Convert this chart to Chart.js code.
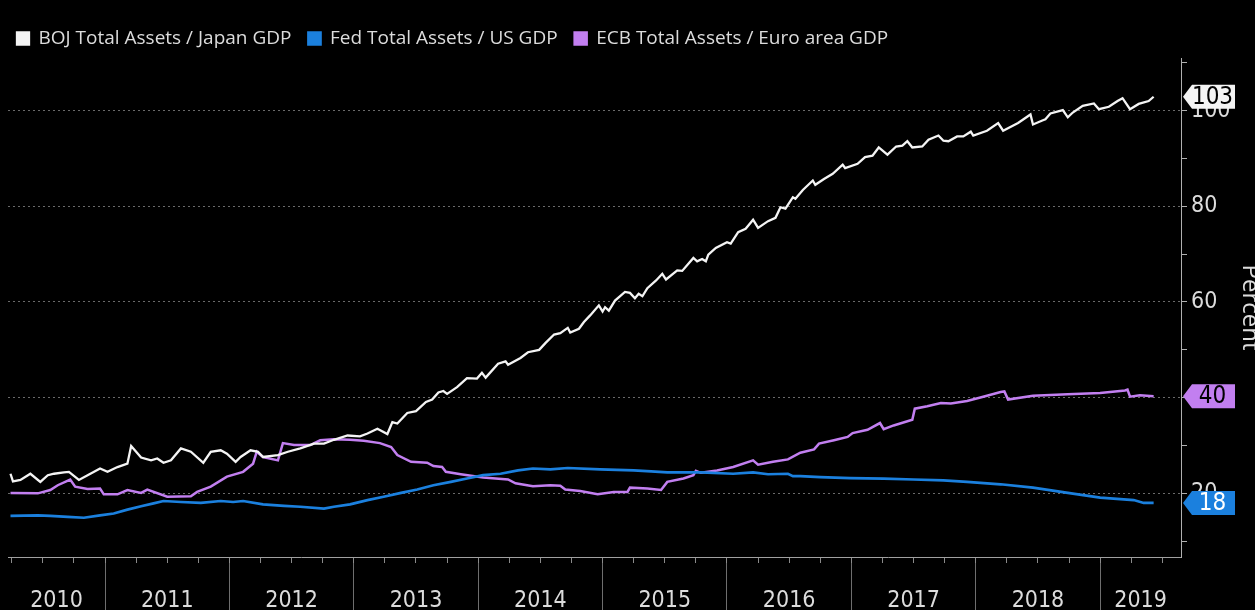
<!DOCTYPE html>
<html>
<head>
<meta charset="utf-8">
<script src="https://cdn.jsdelivr.net/npm/chart.js@4.4.1/dist/chart.umd.min.js"></script>
<style>
  html, body { margin: 0; padding: 0; background: #000; overflow: hidden; }
  canvas { display: block; }
</style>
</head>
<body>
<canvas id="assetsChart" width="1255" height="610"></canvas>
<script>
const seriesNames = ['BOJ Total Assets / Japan GDP', 'Fed Total Assets / US GDP', 'ECB Total Assets / Euro area GDP']
const yearLabels = ['2010', '2011', '2012', '2013', '2014', '2015', '2016', '2017', '2018', '2019']

// dates are decimal years, values in percent of GDP
const bojDates = [
  2010.24, 2010.26, 2010.32, 2010.40, 2010.48, 2010.54, 2010.59, 2010.67, 2010.71, 2010.79, 2010.86, 2010.96,
  2011.02, 2011.10, 2011.18, 2011.21, 2011.29, 2011.37, 2011.42, 2011.47, 2011.53, 2011.61, 2011.69, 2011.79, 2011.85, 2011.93, 2011.98,
  2012.05, 2012.09, 2012.17, 2012.23, 2012.27, 2012.39, 2012.47, 2012.57, 2012.68, 2012.76, 2012.84, 2012.95,
  2013.05, 2013.11, 2013.19, 2013.27, 2013.31, 2013.35, 2013.43, 2013.50, 2013.58, 2013.63, 2013.68, 2013.72, 2013.75, 2013.83, 2013.91, 2013.99,
  2014.03, 2014.06, 2014.16, 2014.22, 2014.24, 2014.34, 2014.40, 2014.49, 2014.54, 2014.61, 2014.66, 2014.72, 2014.74, 2014.81, 2014.85, 2014.90, 2014.97,
  2015.00, 2015.02, 2015.05, 2015.10, 2015.18, 2015.22, 2015.26, 2015.29, 2015.32, 2015.36, 2015.43, 2015.48, 2015.51, 2015.60, 2015.64, 2015.73, 2015.76, 2015.80, 2015.83, 2015.85, 2015.91,
  2016.00, 2016.03, 2016.09, 2016.15, 2016.21, 2016.25, 2016.33, 2016.39, 2016.43, 2016.47, 2016.53, 2016.55, 2016.61, 2016.69, 2016.71, 2016.78, 2016.85, 2016.93, 2016.95,
  2017.05, 2017.11, 2017.17, 2017.22, 2017.29, 2017.36, 2017.41, 2017.45, 2017.49, 2017.57, 2017.62, 2017.70, 2017.74, 2017.78, 2017.85, 2017.90, 2017.96, 2017.98,
  2018.09, 2018.18, 2018.22, 2018.34, 2018.44, 2018.46, 2018.54, 2018.56, 2018.60, 2018.70, 2018.74, 2018.78, 2018.86, 2018.95, 2018.99,
  2019.07, 2019.14, 2019.18, 2019.24, 2019.31, 2019.39, 2019.43
]
const bojValues = [
  24.1, 22.5, 22.8, 24.1, 22.4, 23.8, 24.1, 24.4, 24.5, 22.8, 23.8, 25.2,
  24.5, 25.5, 26.2, 29.9, 27.5, 26.9, 27.3, 26.4, 26.9, 29.4, 28.7, 26.4, 28.7, 29.0, 28.3,
  26.6, 27.6, 29.0, 28.7, 27.6, 28.0, 28.7, 29.4, 30.4, 30.4, 31.2, 32.1,
  31.9, 32.5, 33.5, 32.4, 34.9, 34.6, 36.8, 37.2, 39.1, 39.6, 41.1, 41.4, 40.8, 42.2, 44.1, 44.0,
  45.2, 44.2, 47.1, 47.6, 46.9, 48.3, 49.5, 50.0, 51.4, 53.2, 53.5, 54.6, 53.6, 54.4, 55.8, 57.2, 59.3,
  58.0, 58.9, 58.2, 60.3, 62.1, 61.9, 60.8, 61.7, 61.2, 62.9, 64.5, 65.9, 64.7, 66.6, 66.5, 69.2, 68.5, 69.0, 68.5, 69.9, 71.3,
  72.5, 72.2, 74.6, 75.3, 77.2, 75.5, 76.9, 77.6, 79.8, 79.5, 81.9, 81.6, 83.4, 85.4, 84.5, 85.7, 86.8, 88.7, 88.0,
  88.9, 90.3, 90.6, 92.3, 90.8, 92.5, 92.7, 93.6, 92.3, 92.5, 93.9, 94.8, 93.7, 93.6, 94.6, 94.6, 95.6, 94.8,
  95.8, 97.4, 95.8, 97.4, 99.2, 97.1, 98.0, 98.2, 99.4, 100.1, 98.6, 99.6, 101.0, 101.5, 100.3,
  100.8, 102.0, 102.6, 100.3, 101.4, 102.0, 102.9
]

const fedDates = [
  2010.24, 2010.46, 2010.56, 2010.70, 2010.83, 2010.96,
  2011.07, 2011.18, 2011.29, 2011.39, 2011.47, 2011.61, 2011.77, 2011.93,
  2012.03, 2012.11, 2012.27, 2012.44, 2012.57, 2012.76, 2012.84, 2012.97,
  2013.11, 2013.24, 2013.38, 2013.51, 2013.64, 2013.78, 2013.91,
  2014.04, 2014.18, 2014.32, 2014.44, 2014.58, 2014.72, 2014.98,
  2015.25, 2015.39, 2015.52, 2015.79,
  2016.05, 2016.21, 2016.33, 2016.49, 2016.53, 2016.59, 2016.75, 2016.99,
  2017.26, 2017.50, 2017.74, 2017.93,
  2018.20, 2018.46, 2018.74,
  2019.00, 2019.27, 2019.35, 2019.43
]
const fedValues = [
  15.3, 15.4, 15.3, 15.1, 14.9, 15.4,
  15.8, 16.6, 17.3, 17.9, 18.4, 18.2, 18.0, 18.4,
  18.2, 18.4, 17.7, 17.4, 17.2, 16.8, 17.2, 17.7,
  18.6, 19.3, 20.1, 20.8, 21.7, 22.4, 23.1,
  23.8, 24.1, 24.8, 25.2, 25.0, 25.3, 25.0,
  24.8, 24.6, 24.4, 24.4,
  24.1, 24.4, 24.0, 24.1, 23.6, 23.6, 23.4, 23.2,
  23.1, 22.9, 22.7, 22.4,
  21.9, 21.2, 20.1,
  19.1, 18.6, 18.0, 18.0
]

const ecbDates = [
  2010.24, 2010.46, 2010.56, 2010.62, 2010.72, 2010.76, 2010.86, 2010.96, 2010.99,
  2011.10, 2011.18, 2011.29, 2011.34, 2011.50, 2011.69, 2011.74, 2011.85, 2011.98,
  2012.11, 2012.19, 2012.22, 2012.27, 2012.39, 2012.43, 2012.52, 2012.65, 2012.73, 2012.84, 2012.97,
  2013.08, 2013.21, 2013.30, 2013.35, 2013.46, 2013.59, 2013.64, 2013.71, 2013.74, 2013.86,
  2014.04, 2014.24, 2014.30, 2014.44, 2014.58, 2014.66, 2014.70, 2014.82, 2014.96,
  2015.09, 2015.20, 2015.22, 2015.36, 2015.47, 2015.52, 2015.65, 2015.73, 2015.75, 2015.79, 2015.92,
  2016.05, 2016.21, 2016.25, 2016.37, 2016.49, 2016.59, 2016.70, 2016.74, 2016.86, 2016.97,
  2017.01, 2017.13, 2017.23, 2017.26, 2017.34, 2017.49, 2017.51, 2017.61, 2017.72, 2017.80, 2017.93,
  2018.06, 2018.20, 2018.23, 2018.26, 2018.46, 2018.74,
  2019.00, 2019.20, 2019.22, 2019.24, 2019.32, 2019.43
]
const ecbValues = [
  20.1, 20.0, 20.7, 21.7, 22.9, 21.4, 20.9, 21.0, 19.8,
  19.8, 20.7, 20.1, 20.8, 19.3, 19.4, 20.3, 21.4, 23.5,
  24.5, 26.2, 28.7, 27.6, 26.9, 30.5, 30.1, 30.1, 31.1, 31.3, 31.2,
  31.0, 30.5, 29.7, 28.0, 26.6, 26.4, 25.7, 25.5, 24.5, 24.0,
  23.3, 22.9, 22.1, 21.5, 21.7, 21.6, 20.8, 20.5, 19.8,
  20.3, 20.3, 21.2, 21.0, 20.7, 22.4, 23.1, 23.8, 24.7, 24.3, 24.8,
  25.5, 26.9, 26.0, 26.6, 27.1, 28.5, 29.2, 30.4, 31.1, 31.8,
  32.6, 33.3, 34.7, 33.4, 34.2, 35.4, 37.7, 38.2, 38.9, 38.8, 39.3,
  40.2, 41.2, 41.3, 39.6, 40.4, 40.7,
  41.0, 41.5, 41.7, 40.2, 40.5, 40.3
]

const xMin = 2010.22
const xMax = 2019.65
const yMin = 6.7
const yMax = 111

const NARROW = '"Liberation Sans Narrow", "DejaVu Sans Condensed", sans-serif'
const TEXT = '#dcdcdc'

Chart.defaults.font.family = '"Open Sans", sans-serif'

function toPoints(dates, values) {
    return dates.map((d, i) => ({ x: d, y: values[i] }))
}

// value tags at the right end of each line
const endTags = {
    id: 'endTags',
    afterDraw(chart) {
        const { ctx, chartArea, scales } = chart
        chart.data.datasets.forEach((ds) => {
            const last = ds.data[ds.data.length - 1].y
            const y = scales.y.getPixelForValue(last)
            const tip = chartArea.right + 2
            const body = tip + 9
            const end = tip + 52
            const h = 12
            ctx.save()
            ctx.fillStyle = ds.borderColor
            ctx.beginPath()
            ctx.moveTo(tip, y)
            ctx.lineTo(body, y - h)
            ctx.lineTo(end, y - h)
            ctx.lineTo(end, y + h)
            ctx.lineTo(body, y + h)
            ctx.closePath()
            ctx.fill()
            ctx.fillStyle = ds.tagTextColor
            ctx.font = '24px ' + NARROW
            ctx.textAlign = 'center'
            ctx.textBaseline = 'middle'
            ctx.fillText(String(Math.round(last)), (body + end) / 2 - 1, y + 1)
            ctx.restore()
        })
    }
}

const chart = new Chart(document.getElementById('assetsChart'), {
    type: 'line',
    data: {
        datasets: [{
            label: seriesNames[0],
            data: toPoints(bojDates, bojValues),
            borderColor: '#f4f4f4',
            backgroundColor: '#f4f4f4',
            tagTextColor: '#000',
            borderWidth: 2.3,
            pointRadius: 0,
            tension: 0
        }, {
            label: seriesNames[1],
            data: toPoints(fedDates, fedValues),
            borderColor: '#1b80de',
            backgroundColor: '#1b80de',
            tagTextColor: '#fff',
            borderWidth: 2.7,
            pointRadius: 0,
            tension: 0
        }, {
            label: seriesNames[2],
            data: toPoints(ecbDates, ecbValues),
            borderColor: '#c27ff0',
            backgroundColor: '#c27ff0',
            tagTextColor: '#000',
            borderWidth: 2.5,
            pointRadius: 0,
            tension: 0
        }]
    },
    options: {
        responsive: false,
        animation: false,
        devicePixelRatio: 1,
        layout: { padding: { top: 12, left: 0, right: 0, bottom: 0 } },
        plugins: {
            legend: {
                position: 'top',
                align: 'start',
                labels: {
                    color: TEXT,
                    boxWidth: 12,
                    boxHeight: 12,
                    padding: 17,
                    font: { size: 19 }
                }
            },
            tooltip: { enabled: false }
        },
        scales: {
            x: {
                type: 'linear',
                position: 'bottom',
                min: xMin,
                max: xMax,
                afterBuildTicks: (scale) => {
                    const ticks = []
                    for (let q = Math.ceil(scale.min * 4); q / 4 <= scale.max; q++) {
                        ticks.push({ value: q / 4 })
                    }
                    scale.ticks = ticks
                },
                ticks: { display: false },
                grid: {
                    drawOnChartArea: false,
                    tickLength: 6,
                    tickColor: '#8a8a8a'
                },
                border: { color: '#a0a0a0' }
            },
            x2: {
                type: 'linear',
                position: 'bottom',
                min: xMin,
                max: xMax,
                afterBuildTicks: (scale) => {
                    const ticks = []
                    yearLabels.forEach((label) => {
                        const year = Number(label)
                        if (year > scale.min) ticks.push({ value: year })
                        const from = Math.max(year, scale.min)
                        const to = Math.min(year + 1, scale.max)
                        ticks.push({ value: (from + to) / 2, yearLabel: label })
                    })
                    ticks.sort((a, b) => a.value - b.value)
                    scale.ticks = ticks
                },
                afterFit: (scale) => { scale.height = 47 },
                ticks: {
                    autoSkip: false,
                    maxRotation: 0,
                    padding: -23,
                    color: TEXT,
                    font: { family: NARROW, size: 23 },
                    callback: (value, index, ticks) => ticks[index].yearLabel || ''
                },
                grid: {
                    drawOnChartArea: false,
                    tickLength: 47,
                    tickColor: (ctx) => (ctx.tick && ctx.tick.yearLabel) ? 'transparent' : '#6e6e6e'
                },
                border: { display: false }
            },
            y: {
                type: 'linear',
                position: 'right',
                min: yMin,
                max: yMax,
                afterBuildTicks: (scale) => {
                    const ticks = []
                    for (let v = 10; v <= 110; v += 10) ticks.push({ value: v })
                    scale.ticks = ticks
                },
                afterFit: (scale) => { scale.width = 74 },
                ticks: {
                    padding: 4,
                    color: TEXT,
                    font: { family: NARROW, size: 23 },
                    callback: (value) => (value % 20 === 0 && value <= 100) ? String(value) : ''
                },
                grid: {
                    color: (ctx) => (ctx.tick && ctx.tick.value % 20 === 0 && ctx.tick.value <= 100) ? '#6a6a6a' : 'transparent',
                    lineWidth: 1,
                    tickLength: 6,
                    tickColor: '#b0b0b0'
                },
                border: { color: '#b0b0b0', dash: [2, 3] },
                title: {
                    display: true,
                    text: 'Percent',
                    color: TEXT,
                    font: { size: 24 },
                    padding: { top: -9, bottom: 0 }
                }
            },
            yl: {
                type: 'linear',
                position: 'left',
                display: true,
                ticks: { display: false },
                grid: { display: false },
                border: { display: false },
                afterFit: (scale) => { scale.width = 8 }
            }
        }
    },
    plugins: [endTags]
})
</script>
</body>
</html>
